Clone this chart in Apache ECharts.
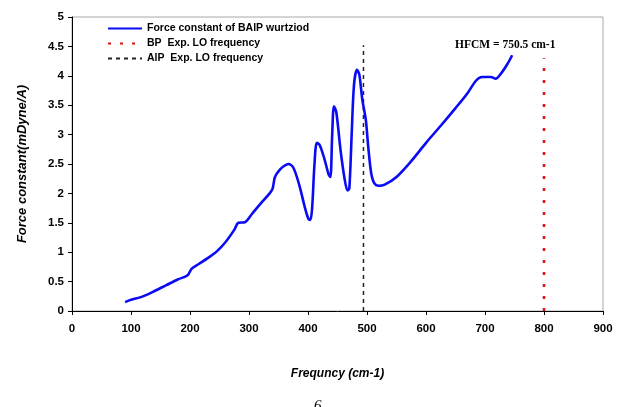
<!DOCTYPE html>
<html>
<head>
<meta charset="utf-8">
<script src="https://cdn.jsdelivr.net/npm/echarts@6/dist/echarts.min.js"></script>
<style>
  html, body { margin: 0; padding: 0; background: #fff; }
  #main { width: 627px; height: 407px; }
</style>
</head>
<body>
<div id="main"></div>
<script>
// frequency (cm-1) and force constant (mDyne/A)
var freq = [90, 100, 118, 140, 160, 180, 191, 197, 203, 215, 230, 245, 260, 275, 282, 293,
  305, 320, 335, 340, 344, 352, 360, 367, 375, 385, 395, 401, 404, 407, 411, 415, 420,
  428, 435, 438, 441, 444, 448, 455, 462, 467, 470, 474, 478, 483, 487, 492, 498, 502,
  507, 512, 520, 530, 550, 575, 600, 625, 650, 670, 685, 695, 710, 718, 728, 738, 746];
var force = [0.15, 0.19, 0.24, 0.34, 0.44, 0.54, 0.58, 0.62, 0.72, 0.80, 0.90, 1.01, 1.17, 1.38, 1.50, 1.51,
  1.65, 1.83, 2.00, 2.08, 2.28, 2.40, 2.47, 2.50, 2.44, 2.15, 1.75, 1.56, 1.55, 1.75, 2.50, 2.86, 2.82,
  2.58, 2.32, 2.28, 3.00, 3.48, 3.38, 2.75, 2.25, 2.05, 2.08, 3.00, 3.85, 4.10, 4.02, 3.60, 3.25, 2.80,
  2.35, 2.18, 2.13, 2.15, 2.28, 2.55, 2.86, 3.15, 3.45, 3.70, 3.92, 3.98, 3.98, 3.95, 4.05, 4.20, 4.35];

// experimental LO frequencies (vertical lines)
var bpLO = [[800, 0], [800, 4.3]];
var alpLO = [[494, 0], [494, 4.52]];

var seriesNames = ['Force constant of BAlP wurtziod', 'BP  Exp. LO frequency', 'AlP  Exp. LO frequency'];
var hfcmText = 'HFCM = 750.5 cm-1';

var curve = freq.map(function (f, i) { return [f, force[i]]; });

var myChart = echarts.init(document.getElementById('main'));

var option = {
  animation: false,
  grid: {
    left: 72, right: 24, top: 17, bottom: 96,
    show: true, borderColor: '#a8a8a8', borderWidth: 1
  },
  legend: {
    orient: 'vertical',
    left: 102, top: 18,
    itemWidth: 34, itemHeight: 10, itemGap: 4,
    itemStyle: { opacity: 0 },
    textStyle: { fontFamily: 'Liberation Sans', fontWeight: 'bold', fontSize: 10.5, color: '#000' },
    data: seriesNames
  },
  xAxis: {
    type: 'value',
    min: 0, max: 900, interval: 100,
    name: 'Frequncy (cm-1)',
    nameLocation: 'middle', nameGap: 57,
    nameTextStyle: { fontFamily: 'Liberation Sans', fontWeight: 'bold', fontStyle: 'italic', fontSize: 12, color: '#000' },
    axisLine: { lineStyle: { color: '#000', width: 1 } },
    axisTick: { length: 4, lineStyle: { color: '#000' } },
    axisLabel: { fontFamily: 'Liberation Sans', fontWeight: 'bold', fontSize: 11.5, color: '#000', margin: 12 },
    splitLine: { show: false }
  },
  yAxis: {
    type: 'value',
    min: 0, max: 5, interval: 0.5,
    name: 'Force constant(mDyne/A)',
    nameLocation: 'middle', nameGap: 43,
    nameTextStyle: { fontFamily: 'Liberation Sans', fontWeight: 'bold', fontStyle: 'italic', fontSize: 13, color: '#000' },
    axisLine: { show: true, lineStyle: { color: '#000', width: 1 } },
    axisTick: { show: true, length: 4, lineStyle: { color: '#000' } },
    axisLabel: { fontFamily: 'Liberation Sans', fontWeight: 'bold', fontSize: 11.5, color: '#000', margin: 8 },
    splitLine: { show: false }
  },
  graphic: [
    {
      type: 'text', left: 455, top: 39,
      style: { text: hfcmText, font: 'bold 11.5px "Liberation Serif"', fill: '#000' }
    },
    {
      type: 'text', left: 314, top: 399,
      style: { text: '6', font: 'italic 15px "Liberation Serif"', fill: '#000' }
    }
  ],
  series: [
    {
      name: seriesNames[0],
      type: 'line',
      data: curve,
      symbol: 'none',
      smooth: 0.3,
      lineStyle: { color: '#0a0af5', width: 2.6 },
      itemStyle: { color: '#0a0af5' },
      z: 3
    },
    {
      name: seriesNames[1],
      type: 'line',
      data: bpLO,
      symbol: 'none',
      lineStyle: { color: '#e01010', width: 2.5, type: [3, 9] },
      itemStyle: { color: '#e01010' },
      z: 2
    },
    {
      name: seriesNames[2],
      type: 'line',
      data: alpLO,
      symbol: 'none',
      lineStyle: { color: '#222', width: 1.5, type: [4, 4] },
      itemStyle: { color: '#222' },
      z: 2
    }
  ]
};

myChart.setOption(option);
</script>
</body>
</html>
